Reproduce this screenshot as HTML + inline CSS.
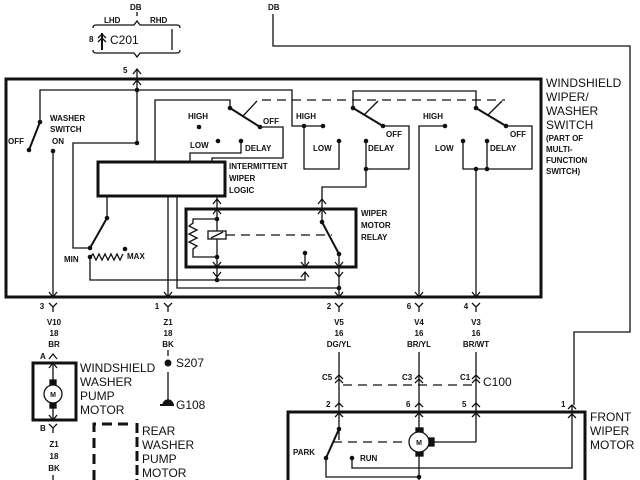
<!DOCTYPE html>
<html><head><meta charset="utf-8"><style>
html,body{margin:0;padding:0;background:#fff;}
svg{display:block;}
text{font-family:"Liberation Sans",sans-serif;fill:#111;}
.s{font-size:8px;font-weight:bold;}
.m{font-size:9px;}
.l{font-size:12px;}
</style></head><body>
<svg width="640" height="480" viewBox="0 0 640 480" xmlns="http://www.w3.org/2000/svg" stroke="#111" fill="none" stroke-width="1.3">
<!-- top -->
<text x="130" y="10" class="s" stroke="none">DB</text>
<line x1="137" y1="12" x2="137" y2="16"/>
<path d="M93,28 q0,-3 3,-3 h38 l3,-4 l3,4 h37 q3,0 3,3"/>
<path d="M93,50 q0,3 3,3 h38 l3,4 l3,-4 h37 q3,0 3,-3"/>
<text x="104" y="23" class="s" stroke="none">LHD</text>
<text x="150" y="23" class="s" stroke="none">RHD</text>
<text x="89" y="42" class="s" stroke="none">8</text>
<line x1="102" y1="33" x2="102" y2="50" stroke-width="2"/>
<path d="M98,38 l4,-4 l4,4 M98,42 l4,-4 l4,4"/>
<text x="110" y="44" class="l" stroke="none">C201</text>
<line x1="172" y1="29" x2="172" y2="50"/>
<text x="123" y="73" class="s" stroke="none">5</text>
<path d="M133,74 l4,-5 l4,5"/>
<line x1="137" y1="69" x2="137" y2="143"/>
<text x="268" y="10" class="s" stroke="none">DB</text>
<path d="M273,14 V46 H630 V332 H574 V405"/>

<!-- main box -->
<rect x="6" y="79" width="535" height="218" stroke-width="3"/>
<path d="M133,85 l4,-5 l4,5"/>
<text x="546" y="87" class="l" stroke="none">WINDSHIELD</text>
<text x="546" y="101" class="l" stroke="none">WIPER/</text>
<text x="546" y="115" class="l" stroke="none">WASHER</text>
<text x="546" y="129" class="l" stroke="none">SWITCH</text>
<text x="546" y="141" class="s" stroke="none">(PART OF</text>
<text x="546" y="152" class="s" stroke="none">MULTI-</text>
<text x="546" y="163" class="s" stroke="none">FUNCTION</text>
<text x="546" y="174" class="s" stroke="none">SWITCH)</text>

<!-- washer switch -->
<path d="M40,122 V90 H292 V126 H323"/>
<line x1="40" y1="122" x2="29" y2="150" stroke-width="2"/>
<text x="8" y="144" class="s" stroke="none">OFF</text>
<text x="50" y="121" class="s" stroke="none">WASHER</text>
<text x="50" y="132" class="s" stroke="none">SWITCH</text>
<text x="52" y="144" class="s" stroke="none">ON</text>
<line x1="53" y1="151" x2="53" y2="297"/>
<path d="M49,292 l4,5 l4,-5"/>

<!-- left wiring -->
<path d="M137,143 H73 V248 H90"/>
<line x1="90" y1="248" x2="107" y2="218" stroke-width="2"/>
<line x1="107" y1="218" x2="107" y2="196"/>
<path d="M90,257 l3,-3 l3,6 l3,-6 l3,6 l3,-6 l3,6 l3,-6 l3,6 l3,-6 l3,6 l3,-6"/>
<text x="64" y="262" class="s" stroke="none">MIN</text>
<text x="127" y="259" class="s" stroke="none">MAX</text>
<path d="M90,257 V280 H305 V272"/>
<path d="M301,277 l4,-5 l4,5"/>
<line x1="168" y1="196" x2="168" y2="297"/>
<path d="M164,292 l4,5 l4,-5"/>
<path d="M177,196 V288 H339"/>

<!-- logic box -->
<rect x="98" y="162" width="127" height="34" stroke-width="3"/>
<text x="229" y="169" class="s" stroke="none">INTERMITTENT</text>
<text x="229" y="181" class="s" stroke="none">WIPER</text>
<text x="229" y="193" class="s" stroke="none">LOGIC</text>

<!-- switch 1 -->
<path d="M155,162 V100 H230 V108"/>
<line x1="230" y1="108" x2="260" y2="127" stroke-width="2"/>
<line x1="243" y1="116" x2="257" y2="101"/>
<line x1="262" y1="100" x2="505" y2="100" stroke-dasharray="9,6"/>
<path d="M260,127 H283 V158 H212 V162"/>
<text x="263" y="124" class="s" stroke="none">OFF</text>
<text x="188" y="119" class="s" stroke="none">HIGH</text>
<text x="190" y="148" class="s" stroke="none">LOW</text>
<path d="M241,141 V153 H190 V162"/>
<text x="245" y="151" class="s" stroke="none">DELAY</text>

<!-- switch 2 -->
<path d="M304,126 V169 H339 V141"/>
<text x="313" y="151" class="s" stroke="none">LOW</text>
<text x="296" y="119" class="s" stroke="none">HIGH</text>
<path d="M353,108 V91 H476 V108"/>
<line x1="353" y1="108" x2="383" y2="126" stroke-width="2"/>
<line x1="364" y1="115" x2="378" y2="101"/>
<path d="M383,126 H409 V169 H366 V141"/>
<text x="386" y="137" class="s" stroke="none">OFF</text>
<text x="368" y="151" class="s" stroke="none">DELAY</text>
<path d="M366,169 V187 H322 V209"/>
<path d="M318,204 l4,-5 l4,5"/>
<text x="423" y="119" class="s" stroke="none">HIGH</text>
<path d="M445,126 H419 V297"/>
<path d="M415,292 l4,5 l4,-5"/>
<text x="435" y="151" class="s" stroke="none">LOW</text>
<line x1="476" y1="108" x2="506" y2="126" stroke-width="2"/>
<line x1="488" y1="115" x2="502" y2="101"/>
<path d="M506,126 H532 V169 H463 V141"/>
<line x1="487" y1="141" x2="487" y2="169"/>
<line x1="476" y1="169" x2="476" y2="297"/>
<path d="M472,292 l4,5 l4,-5"/>
<text x="510" y="137" class="s" stroke="none">OFF</text>
<text x="490" y="151" class="s" stroke="none">DELAY</text>

<!-- relay -->
<rect x="186" y="209" width="170" height="58" stroke-width="3"/>
<text x="361" y="216" class="s" stroke="none">WIPER</text>
<text x="361" y="228" class="s" stroke="none">MOTOR</text>
<text x="361" y="240" class="s" stroke="none">RELAY</text>
<line x1="217" y1="196" x2="217" y2="280"/>
<path d="M213,204 l4,-5 l4,5 M213,214 l4,-5 l4,5 M213,262 l4,5 l4,-5 M213,272 l4,5 l4,-5"/>
<rect x="208" y="231" width="18" height="8" fill="#fff"/>
<line x1="211" y1="238" x2="223" y2="232"/>
<line x1="226" y1="235" x2="332" y2="235" stroke-dasharray="9,6"/>
<path d="M217,219 H193 V223 l-4,3 l8,4 l-8,4 l8,4 l-8,4 l8,4 l-4,3 V257 H217"/>
<line x1="305" y1="253" x2="305" y2="267"/>
<path d="M301,262 l4,5 l4,-5"/>
<path d="M318,214 l4,-5 l4,5"/>
<line x1="322" y1="209" x2="322" y2="222"/>
<line x1="322" y1="222" x2="339" y2="254" stroke-width="2"/>
<line x1="339" y1="254" x2="339" y2="297"/>
<path d="M335,262 l4,5 l4,-5 M335,272 l4,5 l4,-5 M335,292 l4,5 l4,-5"/>

<!-- dots -->
<g fill="#111" stroke="none">
<circle cx="137" cy="90" r="2.3"/><circle cx="137" cy="143" r="2.3"/>
<circle cx="40" cy="122" r="2.3"/><circle cx="29" cy="150" r="2.3"/><circle cx="53" cy="151" r="2.3"/>
<circle cx="90" cy="248" r="2.3"/><circle cx="107" cy="218" r="2.3"/><circle cx="90" cy="257" r="2.3"/><circle cx="125" cy="249" r="2.3"/>
<circle cx="230" cy="108" r="2.3"/><circle cx="260" cy="127" r="2.3"/><circle cx="199" cy="127" r="2.3"/><circle cx="218" cy="141" r="2.3"/><circle cx="241" cy="141" r="2.3"/>
<circle cx="304" cy="126" r="2.3"/><circle cx="323" cy="126" r="2.3"/><circle cx="339" cy="141" r="2.3"/>
<circle cx="353" cy="108" r="2.3"/><circle cx="383" cy="126" r="2.3"/><circle cx="366" cy="141" r="2.3"/><circle cx="366" cy="169" r="2.3"/>
<circle cx="445" cy="126" r="2.3"/><circle cx="476" cy="108" r="2.3"/><circle cx="506" cy="126" r="2.3"/>
<circle cx="463" cy="141" r="2.3"/><circle cx="487" cy="141" r="2.3"/><circle cx="476" cy="169" r="2.3"/><circle cx="487" cy="169" r="2.3"/>
<circle cx="217" cy="219" r="2.3"/><circle cx="217" cy="257" r="2.3"/><circle cx="217" cy="280" r="2.3"/>
<circle cx="305" cy="253" r="2.3"/><circle cx="322" cy="222" r="2.3"/><circle cx="339" cy="254" r="2.3"/><circle cx="339" cy="288" r="2.3"/>
</g>

<!-- bottom connectors -->
<g>
<path d="M49,303 l4,4 l4,-4 M53,307 V312"/>
<path d="M164,303 l4,4 l4,-4 M168,307 V312"/>
<path d="M335,303 l4,4 l4,-4 M339,307 V312"/>
<path d="M415,303 l4,4 l4,-4 M419,307 V312"/>
<path d="M472,303 l4,4 l4,-4 M476,307 V312"/>
</g>
<g class="s" stroke="none" text-anchor="middle">
<text x="42" y="309">3</text><text x="157" y="309">1</text><text x="329" y="309">2</text><text x="409" y="309">6</text><text x="466" y="309">4</text>
<text x="54" y="325">V10</text><text x="54" y="336">18</text><text x="54" y="347">BR</text>
<text x="168" y="325">Z1</text><text x="168" y="336">18</text><text x="168" y="347">BK</text>
<text x="339" y="325">V5</text><text x="339" y="336">16</text><text x="339" y="347">DG/YL</text>
<text x="419" y="325">V4</text><text x="419" y="336">16</text><text x="419" y="347">BR/YL</text>
<text x="476" y="325">V3</text><text x="476" y="336">16</text><text x="476" y="347">BR/WT</text>
</g>

<!-- washer pump -->
<text x="40" y="359" class="s" stroke="none">A</text>
<path d="M49,359 l4,-5 l4,5"/>
<rect x="33" y="363" width="43" height="57" stroke-width="3"/>
<line x1="53" y1="363" x2="53" y2="420"/>
<path d="M49,368 l4,-5 l4,5 M49,415 l4,5 l4,-5"/>
<rect x="50" y="380" width="6" height="5" fill="#111"/>
<rect x="50" y="403" width="6" height="5" fill="#111"/>
<circle cx="53" cy="394" r="9" fill="#fff"/>
<text x="53" y="397" class="s" stroke="none" text-anchor="middle" style="font-size:7px">M</text>
<text x="80" y="372" class="l" stroke="none">WINDSHIELD</text>
<text x="80" y="386" class="l" stroke="none">WASHER</text>
<text x="80" y="400" class="l" stroke="none">PUMP</text>
<text x="80" y="414" class="l" stroke="none">MOTOR</text>
<text x="40" y="431" class="s" stroke="none">B</text>
<path d="M49,424 l4,4 l4,-4 M53,428 V433"/>
<g class="s" stroke="none" text-anchor="middle"><text x="54" y="447">Z1</text><text x="54" y="459">18</text><text x="54" y="471">BK</text></g>
<line x1="53" y1="475" x2="53" y2="480"/>

<!-- S207 / G108 -->
<line x1="168" y1="350" x2="168" y2="356"/>
<circle cx="168" cy="363" r="2.8" fill="#111"/>
<text x="176" y="367" class="l" stroke="none">S207</text>
<line x1="168" y1="372" x2="168" y2="400"/>
<path d="M163,405 a5,5 0 0 1 10,0 z" fill="#111"/>
<line x1="160" y1="405" x2="174" y2="405" stroke-width="2"/>
<text x="176" y="409" class="l" stroke="none">G108</text>

<!-- rear washer -->
<path d="M94,480 V424 H131" stroke-width="3" stroke-dasharray="10,6"/>
<path d="M137,423 V480" stroke-width="3" stroke-dasharray="10,4"/>
<text x="142" y="435" class="l" stroke="none">REAR</text>
<text x="142" y="449" class="l" stroke="none">WASHER</text>
<text x="142" y="463" class="l" stroke="none">PUMP</text>
<text x="142" y="477" class="l" stroke="none">MOTOR</text>

<!-- C100 -->
<line x1="339" y1="352" x2="339" y2="440"/>
<line x1="419" y1="352" x2="419" y2="432"/>
<line x1="476" y1="352" x2="476" y2="442"/>
<path d="M335,379 l4,-4 l4,4 M335,383 l4,-4 l4,4 M415,379 l4,-4 l4,4 M415,383 l4,-4 l4,4 M472,379 l4,-4 l4,4 M472,383 l4,-4 l4,4"/>
<line x1="343" y1="385" x2="472" y2="385" stroke-dasharray="9,6"/>
<g class="s" stroke="none"><text x="322" y="380">C5</text><text x="402" y="380">C3</text><text x="460" y="380">C1</text></g>
<text x="483" y="386" class="l" stroke="none">C100</text>

<!-- front wiper motor -->
<rect x="288" y="412" width="297" height="70" stroke-width="3"/>
<g class="s" stroke="none"><text x="326" y="407">2</text><text x="406" y="407">6</text><text x="462" y="407">5</text><text x="561" y="407">1</text></g>
<path d="M335,407 l4,-4 l4,4 M335,417 l4,-4 l4,4 M415,407 l4,-4 l4,4 M415,417 l4,-4 l4,4 M472,407 l4,-4 l4,4 M472,417 l4,-4 l4,4 M568,409 l4,-4 l4,4 M568,418 l4,-4 l4,4"/>
<text x="590" y="421" class="l" stroke="none">FRONT</text>
<text x="590" y="435" class="l" stroke="none">WIPER</text>
<text x="590" y="449" class="l" stroke="none">MOTOR</text>
<line x1="339" y1="429" x2="326" y2="458" stroke-width="2"/>
<line x1="333" y1="442" x2="408" y2="442" stroke-dasharray="9,6"/>
<text x="293" y="455" class="s" stroke="none">PARK</text>
<text x="360" y="461" class="s" stroke="none">RUN</text>
<path d="M352,458 V468 H572 V405"/>
<path d="M326,458 V477 H419"/>
<path d="M431,442 H476"/>
<line x1="419" y1="452" x2="419" y2="480"/>
<rect x="416" y="428" width="7" height="5" fill="#111"/>
<rect x="416" y="451" width="7" height="5" fill="#111"/>
<rect x="429" y="438" width="5" height="8" fill="#111"/>
<circle cx="419" cy="442" r="10" fill="#fff"/>
<text x="419" y="445" class="s" stroke="none" text-anchor="middle" style="font-size:7px">M</text>
<g fill="#111" stroke="none">
<circle cx="339" cy="429" r="2.3"/><circle cx="326" cy="458" r="2.3"/><circle cx="352" cy="458" r="2.3"/><circle cx="419" cy="477" r="2.3"/>
</g>
</svg>
</body></html>
